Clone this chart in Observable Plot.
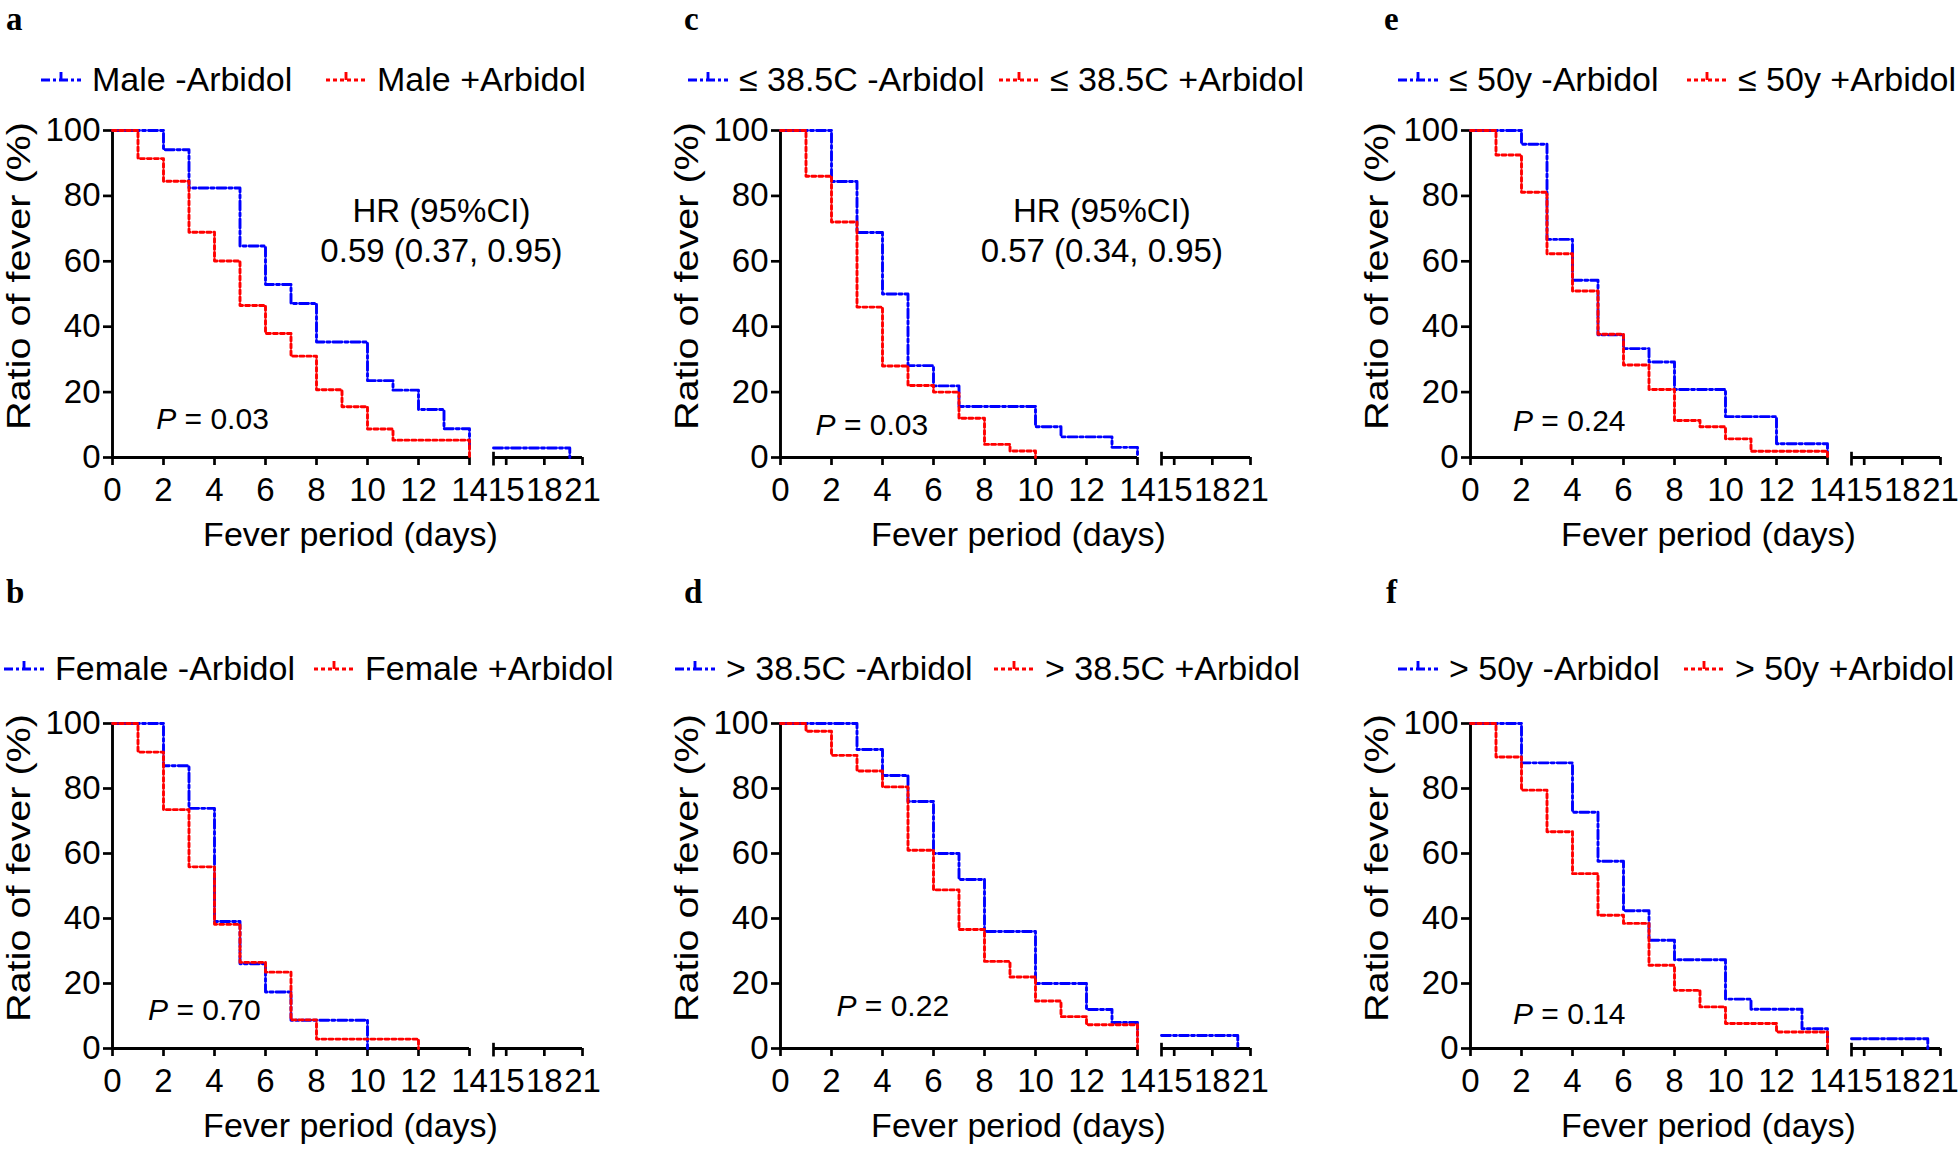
<!DOCTYPE html>
<html><head><meta charset="utf-8">
<script src="https://cdn.jsdelivr.net/npm/d3@7"></script>
<script src="https://cdn.jsdelivr.net/npm/@observablehq/plot@0.6"></script>
<style>
html,body{margin:0;padding:0;background:#fff;}
#fig{position:relative;width:1960px;height:1150px;overflow:hidden;background:#fff;font-family:"Liberation Sans",Arial,sans-serif;color:#000;}
.letter{position:absolute;font-family:"Liberation Serif","Times New Roman",serif;font-weight:bold;font-size:33px;line-height:1;}
.legtext{position:absolute;height:40px;display:flex;align-items:center;font-size:34px;line-height:1;white-space:nowrap;}
svg.plotsvg{position:absolute;max-width:none;overflow:visible;}
</style></head><body><div id="fig"></div>
<script>
// ---------------- data ----------------
const xTicksMain = [0, 2, 4, 6, 8, 10, 12, 14];
const xTicksTail = [15, 18, 21];
const yTicks = [0, 20, 40, 60, 80, 100];

// a: Male
const aMinusDays  = [0, 2, 3, 5, 6, 7, 8, 10, 11, 12, 13, 14, 20];
const aMinusRatio = [100, 94.1, 82.4, 64.7, 52.9, 47.1, 35.3, 23.5, 20.6, 14.7, 8.8, 2.9, 0];
const aPlusDays   = [0, 1, 2, 3, 4, 5, 6, 7, 8, 9, 10, 11, 14];
const aPlusRatio  = [100, 91.4, 84.5, 68.9, 60.1, 46.5, 37.9, 31.0, 20.7, 15.5, 8.7, 5.3, 0];
// b: Female
const bMinusDays  = [0, 2, 3, 4, 5, 6, 7, 10];
const bMinusRatio = [100, 87.0, 73.9, 39.1, 26.1, 17.4, 8.7, 0];
const bPlusDays   = [0, 1, 2, 3, 4, 5, 6, 7, 8, 12];
const bPlusRatio  = [100, 91.2, 73.5, 55.9, 38.2, 26.5, 23.5, 8.8, 2.9, 0];
// c: <= 38.5C
const cMinusDays  = [0, 2, 3, 4, 5, 6, 7, 10, 11, 13, 14];
const cMinusRatio = [100, 84.4, 68.8, 50.0, 28.1, 21.9, 15.6, 9.4, 6.3, 3.1, 0];
const cPlusDays   = [0, 1, 2, 3, 4, 5, 6, 7, 8, 9, 10];
const cPlusRatio  = [100, 86, 72, 46, 28, 22, 20, 12, 4, 2, 0];
// d: > 38.5C
const dMinusDays  = [0, 3, 4, 5, 6, 7, 8, 10, 12, 13, 14, 20];
const dMinusRatio = [100, 92, 84, 76, 60, 52, 36, 20, 12, 8, 4, 0];
const dPlusDays   = [0, 1, 2, 3, 4, 5, 6, 7, 8, 9, 10, 11, 12, 14];
const dPlusRatio  = [100, 97.6, 90.2, 85.4, 80.5, 61.0, 48.8, 36.6, 26.8, 22.0, 14.6, 9.8, 7.3, 0];
// e: <= 50y
const eMinusDays  = [0, 2, 3, 4, 5, 6, 7, 8, 10, 12, 14];
const eMinusRatio = [100, 95.8, 66.7, 54.2, 37.5, 33.3, 29.2, 20.8, 12.5, 4.2, 0];
const ePlusDays   = [0, 1, 2, 3, 4, 5, 6, 7, 8, 9, 10, 11, 14];
const ePlusRatio  = [100, 92.5, 81.1, 62.3, 50.9, 37.7, 28.3, 20.8, 11.3, 9.4, 5.7, 1.9, 0];
// f: > 50y
const fMinusDays  = [0, 2, 4, 5, 6, 7, 8, 10, 11, 13, 14, 20];
const fMinusRatio = [100, 87.9, 72.7, 57.6, 42.4, 33.3, 27.3, 15.2, 12.1, 6.1, 3.0, 0];
const fPlusDays   = [0, 1, 2, 3, 4, 5, 6, 7, 8, 9, 10, 12, 14];
const fPlusRatio  = [100, 89.7, 79.5, 66.7, 53.8, 41.0, 38.5, 25.6, 17.9, 12.8, 7.7, 5.1, 0];

const panelLetters = ["a", "b", "c", "d", "e", "f"];
const legendMinus = ["Male -Arbidol", "Female -Arbidol", "\u2264 38.5C -Arbidol", "> 38.5C -Arbidol", "\u2264 50y -Arbidol", "> 50y -Arbidol"];
const legendPlus  = ["Male +Arbidol", "Female +Arbidol", "\u2264 38.5C +Arbidol", "> 38.5C +Arbidol", "\u2264 50y +Arbidol", "> 50y +Arbidol"];
const pValues = ["0.03", "0.70", "0.03", "0.22", "0.24", "0.14"];
const hrTitle = "HR (95%CI)";
const hrValues = ["0.59 (0.37, 0.95)", null, "0.57 (0.34, 0.95)", null, null, null];
const xLabel = "Fever period (days)";
const yLabel = "Ratio of fever (%)";

// ---------------- layout / style ----------------
const BLUE = "#0000ff", RED = "#ff0000";
const DASH_MINUS = "9,3,3,3", DASH_PLUS = "4,3";
const LW = 2.9;
const layout = {
  colX0: [112, 780, 1470],
  rowY100: [130, 723],
  rowY0: [457, 1048],
  mainW: 357, tailStart: 381, tailW: 89,
  letterX: [6, 6, 684, 684, 1384, 1386],
  letterTop: [2.5, 576],
  legendY: [79, 668],
  legendText: [92, 55, 739, 726, 1449, 1449],
  legendText2: [377, 365, 1050, 1045, 1738, 1735],
  pPos: [[2.5, 11.6], [2.18, 11.7], [2.16, 9.8], [2.98, 12.9], [2.45, 10.9], [2.45, 10.5]],
  hrPos: [[12.9, 75.2, 63.0], null, [12.6, 75.2, 63.0], null, null, null],
  yLabelStretch: 1.2
};
const panels = [
  {row: 0, col: 0, minus: [aMinusDays, aMinusRatio], plus: [aPlusDays, aPlusRatio]},
  {row: 1, col: 0, minus: [bMinusDays, bMinusRatio], plus: [bPlusDays, bPlusRatio]},
  {row: 0, col: 1, minus: [cMinusDays, cMinusRatio], plus: [cPlusDays, cPlusRatio]},
  {row: 1, col: 1, minus: [dMinusDays, dMinusRatio], plus: [dPlusDays, dPlusRatio]},
  {row: 0, col: 2, minus: [eMinusDays, eMinusRatio], plus: [ePlusDays, ePlusRatio]},
  {row: 1, col: 2, minus: [fMinusDays, fMinusRatio], plus: [fPlusDays, fPlusRatio]}
];

const fig = document.getElementById("fig");
const baseStyle = {fontFamily: "'Liberation Sans', Arial, sans-serif", fontSize: "33px", color: "#000", background: "transparent", overflow: "visible"};
const fmt = d => String(d);

function toPts([days, ratio]) { return days.map((t, i) => ({t, r: ratio[i]})); }

function place(svg, left, top) {
  svg.classList.add("plotsvg");
  svg.style.left = left + "px";
  svg.style.top = top + "px";
  fig.appendChild(svg);
}

panels.forEach((p, i) => {
  const x0 = layout.colX0[p.col];
  const y100 = layout.rowY100[p.row];
  const H = layout.rowY0[p.row] - y100;
  const minus = toPts(p.minus), plus = toPts(p.plus);
  const mL = 130, mR = 20, mT = 20, mB = 100;

  const lineOpts = (stroke, dash) => ({x: "t", y: "r", curve: "step-after", stroke, strokeWidth: LW, strokeDasharray: dash});

  // ---- main segment 0..14 ----
  const marks = [
    Plot.ruleY([0], {stroke: "#000", strokeWidth: 2.9}),
    Plot.ruleX([0], {stroke: "#000", strokeWidth: 2.9}),
    Plot.axisX({ticks: xTicksMain, tickFormat: fmt, tickSize: 8, tickPadding: 12, strokeWidth: 2.7, label: null}),
    Plot.axisY({ticks: yTicks, tickFormat: fmt, tickSize: 9, tickPadding: 3, strokeWidth: 2.7, label: null}),
    Plot.line(minus.filter(d => d.t <= 14), lineOpts(BLUE, DASH_MINUS)),
    Plot.line(plus.filter(d => d.t <= 14), lineOpts(RED, DASH_PLUS)),
    Plot.text([yLabel], {text: d => d, frameAnchor: "left", rotate: -90, dx: -93, dy: -18, textAnchor: "middle", lineAnchor: "middle"}),
    Plot.text([xLabel], {text: d => d, frameAnchor: "bottom-left", dx: 238, dy: 78, textAnchor: "middle", lineAnchor: "middle", fontSize: 34}),
    Plot.text([{x: layout.pPos[i][0], y: layout.pPos[i][1], s: "P"}], {x: "x", y: "y", text: "s", textAnchor: "end", fontStyle: "italic", fontSize: 30}),
    Plot.text([{x: layout.pPos[i][0], y: layout.pPos[i][1], s: " = " + pValues[i]}], {x: "x", y: "y", text: "s", textAnchor: "start", fontSize: 30})
  ];
  if (hrValues[i]) {
    const h = layout.hrPos[i];
    marks.push(Plot.text([{x: h[0], y: h[1], s: hrTitle}, {x: h[0], y: h[2], s: hrValues[i]}], {x: "x", y: "y", text: "s", textAnchor: "middle", lineAnchor: "middle"}));
  }
  const left = Plot.plot({
    width: mL + layout.mainW + mR, height: mT + H + mB,
    marginLeft: mL, marginRight: mR, marginTop: mT, marginBottom: mB,
    x: {domain: [0, 14], label: null},
    y: {domain: [0, 100], label: null},
    style: baseStyle,
    marks
  });
  // the y title is drawn a little elongated along its length, as in the reference
  left.querySelectorAll("text").forEach(t => {
    const tr = t.getAttribute("transform") || "";
    if (tr.includes("rotate(-90)")) t.setAttribute("transform", tr + ` scale(${layout.yLabelStretch},1)`);
  });
  place(left, x0 - mL, y100 - mT);

  // ---- tail segment 14..21 ----
  const tL = 10, tR = 24;
  const tail = Plot.plot({
    width: tL + layout.tailW + tR, height: mT + H + mB,
    marginLeft: tL, marginRight: tR, marginTop: mT, marginBottom: mB,
    x: {domain: [14, 21], label: null},
    y: {domain: [0, 100], label: null, axis: null},
    style: baseStyle,
    marks: [
      Plot.ruleY([0], {stroke: "#000", strokeWidth: 2.9}),
      Plot.ruleX([14], {y1: -2.6, y2: 1.6, stroke: "#000", strokeWidth: 2.7}),
      Plot.axisX({ticks: xTicksTail, tickFormat: fmt, tickSize: 8, tickPadding: 12, strokeWidth: 2.7, label: null}),
      Plot.line(minus.filter(d => d.t >= 14), lineOpts(BLUE, DASH_MINUS)),
      Plot.line(plus.filter(d => d.t >= 14), lineOpts(RED, DASH_PLUS))
    ]
  });
  place(tail, x0 + layout.tailStart - tL, y100 - mT);

  // ---- panel letter ----
  const L = document.createElement("div");
  L.className = "letter";
  L.textContent = panelLetters[i];
  L.style.left = layout.letterX[i] + "px";
  L.style.top = layout.letterTop[p.row] + "px";
  fig.appendChild(L);

  // ---- legend ----
  const yc = layout.legendY[p.row];
  const items = [[layout.legendText[i], BLUE, DASH_MINUS, legendMinus[i]], [layout.legendText2[i], RED, DASH_PLUS, legendPlus[i]]];
  items.forEach(([tx, color, dash, label]) => {
    const ns = "http://www.w3.org/2000/svg";
    const sw = document.createElementNS(ns, "svg");
    sw.setAttribute("width", 42); sw.setAttribute("height", 24);
    sw.style.position = "absolute"; sw.style.left = (tx - 52) + "px"; sw.style.top = (yc - 12) + "px";
    const ln = document.createElementNS(ns, "line");
    ln.setAttribute("x1", 1); ln.setAttribute("x2", 41); ln.setAttribute("y1", 13); ln.setAttribute("y2", 13);
    ln.setAttribute("stroke", color); ln.setAttribute("stroke-width", LW); ln.setAttribute("stroke-dasharray", dash);
    const tk = document.createElementNS(ns, "line");
    tk.setAttribute("x1", 21); tk.setAttribute("x2", 21); tk.setAttribute("y1", 5); tk.setAttribute("y2", 13);
    tk.setAttribute("stroke", color); tk.setAttribute("stroke-width", LW);
    sw.appendChild(ln); sw.appendChild(tk);
    fig.appendChild(sw);
    const t = document.createElement("div");
    t.className = "legtext";
    t.textContent = label;
    t.style.left = tx + "px";
    t.style.top = (yc - 20) + "px";
    fig.appendChild(t);
  });
});
</script></body></html>
